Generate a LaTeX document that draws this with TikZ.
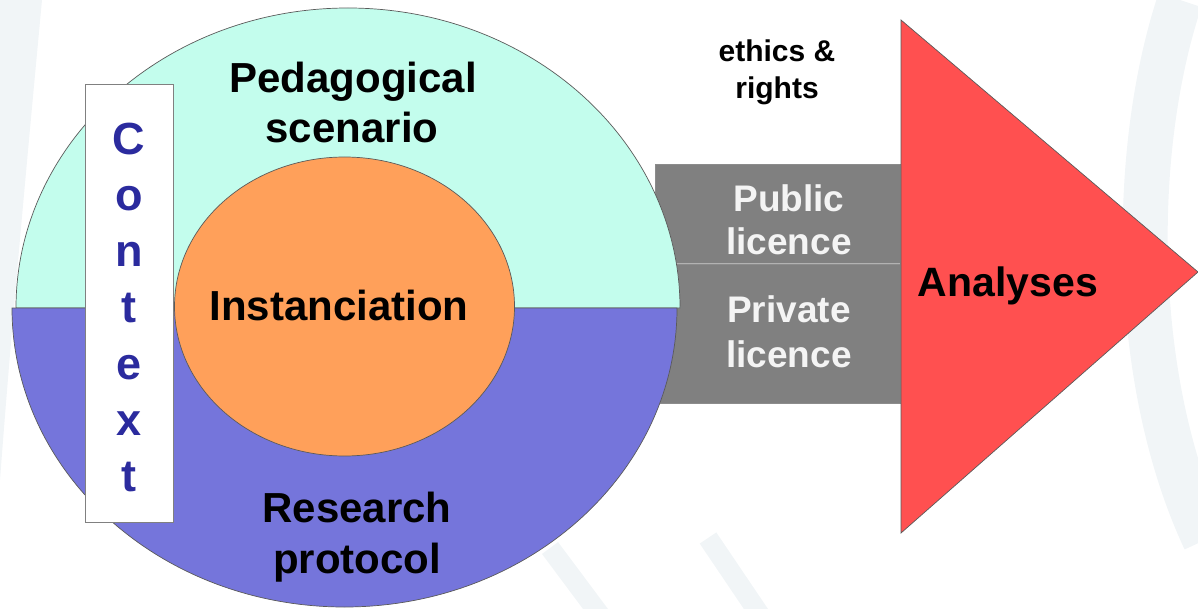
\documentclass[tikz,border=0pt]{standalone}
\usepackage{fontspec}
\setmainfont{Liberation Sans}
\definecolor{bgc}{HTML}{F1F5F7}
\definecolor{cyanfill}{HTML}{C3FDED}
\definecolor{bluefill}{HTML}{7575DB}
\definecolor{orangefill}{HTML}{FFA05A}
\definecolor{redfill}{HTML}{FF5050}
\definecolor{grayfill}{HTML}{808080}
\definecolor{ctxblue}{HTML}{2B2B9E}
\definecolor{edge}{HTML}{5A5A5A}
\definecolor{boxtext}{HTML}{F4F4F4}
\tikzset{
  outline/.style={draw=edge, line width=0.7pt},
  biglbl/.style={inner sep=0pt, anchor=base, font=\bfseries\fontsize{42}{50}\selectfont},
  midlbl/.style={inner sep=0pt, anchor=base, text=boxtext, font=\bfseries\fontsize{37}{45}\selectfont},
  smalllbl/.style={inner sep=0pt, anchor=base, font=\bfseries\fontsize{30}{38}\selectfont},
  ctxletter/.style={inner sep=0pt, anchor=base, text=ctxblue, font=\bfseries\fontsize{45}{56}\selectfont},
  licbox/.style={fill=grayfill, draw=black!45, line width=0.8pt}
}
\begin{document}
\begin{tikzpicture}[x=1pt,y=-1pt]
\useasboundingbox (0,0) rectangle (1198,609);
% faint background swooshes
\fill[bgc] (0,0) -- (42,0) .. controls (28,150) and (12,320) .. (0,480) -- cycle;
\draw[bgc, line width=45pt] (1180,0) .. controls (1130,150) and (1130,380) .. (1205,540);
\draw[bgc, line width=20pt] (550,548) -- (600,615);
\draw[bgc, line width=20pt] (708,538) -- (760,615);
% licence boxes
\draw[licbox] (655,164) rectangle (900,264) node[pos=0.5] (pubbox) {};
\draw[licbox] (660,264) rectangle (900,403) node[pos=0.5] (privbox) {};
\draw[draw=black!30, line width=1pt] (655,264) -- (900,264);
% big ellipse halves
\filldraw[fill=cyanfill, outline] (16,308) arc[start angle=180, end angle=360, x radius=332, y radius=300] -- cycle;
\filldraw[fill=bluefill, outline] (12,308) arc[start angle=180, end angle=0, x radius=332.5, y radius=299] -- cycle;
% inner ellipse
\filldraw[fill=orangefill, outline] (344.5,306.5) ellipse[x radius=170, y radius=149.5];
% context box
\filldraw[fill=white, draw=black!50, line width=0.8pt] (85,84) rectangle (173,522);
% analyses triangle
\filldraw[fill=redfill, outline] (901,20) -- (1198,272) -- (901,533) -- cycle;
% texts
\node[biglbl] (ped) at (353,93) {Pedagogical};
\node[biglbl] (scen) at (352,143) {scenario};
\node[biglbl] (inst) at (339,320) {Instanciation};
\node[biglbl] (res) at (357,522) {Research};
\node[biglbl] (prot) at (357,573) {protocol};
\node[smalllbl] (eth) at (777,62) {ethics \&};
\node[smalllbl] (rig) at (777,99) {rights};
\node[midlbl] (pub) at (789,212) {Public};
\node[midlbl] (lic1) at (789,255) {licence};
\node[midlbl] (priv) at (789,323) {Private};
\node[midlbl] (lic2) at (789,367) {licence};
\node[biglbl, font=\bfseries\fontsize{41}{48}\selectfont] (ana) at (1008,297) {Analyses};
\node[ctxletter] (c1) at (129,155) {C};
\node[ctxletter] (c2) at (129,211) {o};
\node[ctxletter] (c3) at (129,267) {n};
\node[ctxletter] (c4) at (129,323) {t};
\node[ctxletter] (c5) at (129,379) {e};
\node[ctxletter] (c6) at (129,435) {x};
\node[ctxletter] (c7) at (129,491) {t};
\end{tikzpicture}
\end{document}
